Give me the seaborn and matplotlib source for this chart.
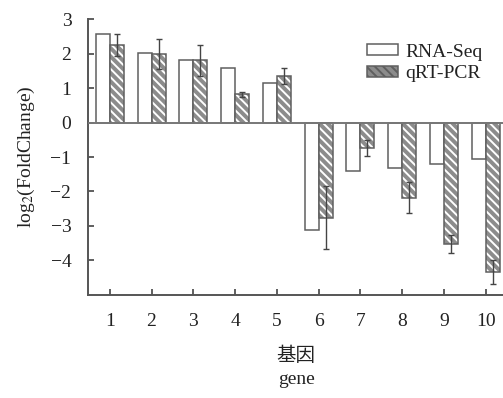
import numpy as np
import pandas as pd
import matplotlib
matplotlib.use("Agg")
import matplotlib.pyplot as plt
import seaborn as sns
from matplotlib.patches import Patch

genes = ["1", "2", "3", "4", "5", "6", "7", "8", "9", "10"]
rna_seq = [2.56, 2.03, 1.82, 1.57, 1.14, -3.11, -1.41, -1.31, -1.20, -1.05]
qrt_pcr = [2.24, 1.99, 1.80, 0.82, 1.35, -2.76, -0.74, -2.18, -3.52, -4.34]
qrt_err = [0.32, 0.43, 0.46, 0.07, 0.22, 0.91, 0.23, 0.45, 0.26, 0.34]
methods = ["RNA-Seq", "qRT-PCR"]
y_ticks = [-4, -3, -2, -1, 0, 1, 2, 3]

sns.set_theme(style="white")
plt.rcParams["font.family"] = ["Liberation Serif", "DejaVu Serif"]
plt.rcParams["mathtext.fontset"] = "stix"
plt.rcParams["hatch.linewidth"] = 1.4

df = pd.DataFrame({
    "gene": genes * 2,
    "value": rna_seq + qrt_pcr,
    "method": [methods[0]] * len(genes) + [methods[1]] * len(genes),
})

edge = "#5f5f5f"
fig = plt.figure(figsize=(5.03, 3.98), dpi=100)
ax = fig.add_axes([0.175, 0.259, 0.825, 0.693])

sns.barplot(data=df, x="gene", y="value", hue="method", order=genes,
            hue_order=methods, width=0.67, gap=0, errorbar=None,
            legend=False, ax=ax, zorder=2)

n = len(genes)
patches = list(ax.patches)
rna_bars = patches[:n]
qrt_bars = patches[n:2 * n]

for b in rna_bars:
    b.set_facecolor("white")
    b.set_edgecolor(edge)
    b.set_linewidth(1.1)

for b in qrt_bars:
    b.set_facecolor("#8c8c8c")
    b.set_edgecolor("white")
    b.set_hatch("\\\\\\\\")
    b.set_linewidth(0)
    # outline on top of the hatched fill
    ax.add_patch(plt.Rectangle(b.get_xy(), b.get_width(), b.get_height(),
                               fill=False, edgecolor=edge, linewidth=1.1,
                               zorder=3))

qx = [b.get_x() + b.get_width() / 2 for b in qrt_bars]
ax.errorbar(qx, qrt_pcr, yerr=qrt_err, fmt="none", ecolor="#444444",
            elinewidth=1.0, capsize=2, capthick=1.0, zorder=4)

ax.axhline(0, color="#777777", linewidth=1.4, zorder=5)

ax.set_ylim(-5, 3)
ax.set_xlim(-0.52, 9.41)
ax.set_yticks(y_ticks)
ax.set_yticklabels([str(t).replace("-", "\u2212") for t in y_ticks])
ax.tick_params(axis="both", direction="in", length=4, width=1.2,
               color="#444444", labelsize=14, labelcolor="#222222")
ax.tick_params(axis="x", pad=13)
ax.tick_params(axis="y", pad=12)
ax.tick_params(left=True, bottom=True)

for s in ["top", "right"]:
    ax.spines[s].set_visible(False)
for s in ["left", "bottom"]:
    ax.spines[s].set_color("#555555")
    ax.spines[s].set_linewidth(1.4)

ax.set_xlabel("")
ax.set_ylabel(r"log$_{2}$(FoldChange)", fontsize=14,
              color="#222222", labelpad=10)

fig.text(0.589, 0.108, "基因", fontsize=14, color="#222222",
         ha="center", va="center", family=["Noto Sans CJK SC", "DejaVu Sans"])
fig.text(0.589, 0.047, "gene", fontsize=14, color="#222222",
         ha="center", va="center")

handles = [
    Patch(facecolor="white", edgecolor=edge, linewidth=1.1, label=methods[0]),
    Patch(facecolor="#8c8c8c", edgecolor=edge, linewidth=1.1,
          hatch="\\\\\\\\", label=methods[1]),
]
fig.legend(handles=handles, loc="upper left", bbox_to_anchor=(0.710, 0.915),
           frameon=False, fontsize=14, handlelength=1.6, handleheight=0.45,
           handletextpad=0.4, labelspacing=0.25, borderpad=0,
           labelcolor="#222222")

fig.savefig("out.png", dpi=100)
